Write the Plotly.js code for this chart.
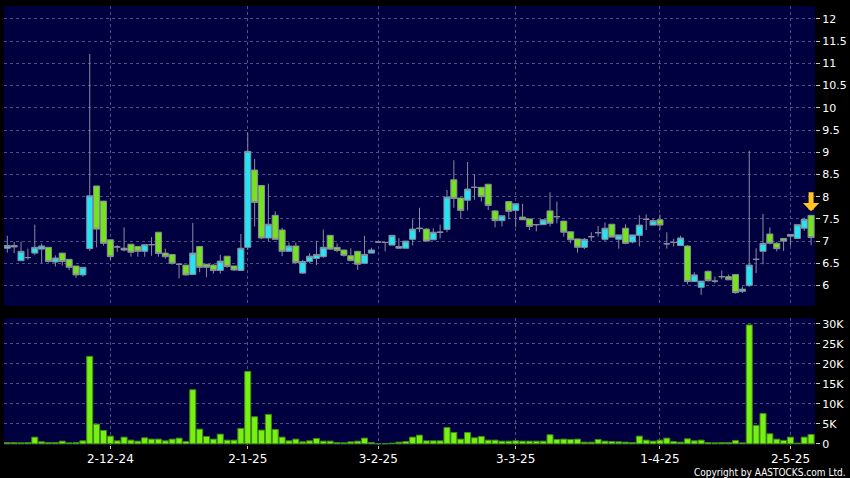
<!DOCTYPE html>
<html>
<head>
<meta charset="utf-8">
<script src="https://cdn.plot.ly/plotly-3.0.1.min.js"></script>
<style>
  html, body { margin: 0; padding: 0; background: #000000; }
  #chart { width: 850px; height: 478px; }
</style>
</head>
<body>
<div id="chart"></div>
<script>
// ---- Data (trading days) ----
var dates = [
  '2024-11-11','2024-11-12','2024-11-13','2024-11-14','2024-11-15','2024-11-18','2024-11-19','2024-11-20','2024-11-21','2024-11-22',
  '2024-11-25','2024-11-26','2024-11-27','2024-11-28','2024-11-29',
  '2024-12-02','2024-12-03','2024-12-04','2024-12-05','2024-12-06','2024-12-09','2024-12-10','2024-12-11','2024-12-12','2024-12-13',
  '2024-12-16','2024-12-17','2024-12-18','2024-12-19','2024-12-20','2024-12-23','2024-12-24','2024-12-27','2024-12-30','2024-12-31',
  '2025-01-02','2025-01-03','2025-01-06','2025-01-07','2025-01-08','2025-01-09','2025-01-10','2025-01-13','2025-01-14','2025-01-15',
  '2025-01-16','2025-01-17','2025-01-20','2025-01-21','2025-01-22','2025-01-23','2025-01-24','2025-01-27','2025-01-28',
  '2025-02-03','2025-02-04','2025-02-05','2025-02-06','2025-02-07','2025-02-10','2025-02-11','2025-02-12','2025-02-13','2025-02-14',
  '2025-02-17','2025-02-18','2025-02-19','2025-02-20','2025-02-21','2025-02-24','2025-02-25','2025-02-26','2025-02-27','2025-02-28',
  '2025-03-03','2025-03-04','2025-03-05','2025-03-06','2025-03-07','2025-03-10','2025-03-11','2025-03-12','2025-03-13','2025-03-14',
  '2025-03-17','2025-03-18','2025-03-19','2025-03-20','2025-03-21','2025-03-24','2025-03-25','2025-03-26','2025-03-27','2025-03-28','2025-03-31',
  '2025-04-01','2025-04-02','2025-04-03','2025-04-07','2025-04-08','2025-04-09','2025-04-10','2025-04-11','2025-04-14','2025-04-15',
  '2025-04-16','2025-04-17','2025-04-22','2025-04-23','2025-04-24','2025-04-25','2025-04-28','2025-04-29','2025-04-30',
  '2025-05-02','2025-05-06','2025-05-07','2025-05-08'
];

var openP = [
  6.84,6.90,6.56,6.63,6.73,6.82,6.86,6.53,6.73,6.59,
  6.44,6.24,6.83,8.24,7.90,7.03,6.87,6.84,6.93,6.88,
  6.77,6.92,7.20,6.73,6.70,6.48,6.46,6.25,6.88,6.48,
  6.46,6.34,6.66,6.44,6.34,6.86,8.60,8.25,7.07,7.58,
  7.25,6.77,6.89,6.28,6.54,6.61,6.65,7.13,6.86,6.80,
  6.67,6.77,6.50,6.73,6.98,6.97,6.91,6.84,6.84,7.04,
  7.28,7.27,7.03,7.20,7.26,8.38,7.97,7.92,8.21,8.21,
  8.28,7.68,7.46,7.89,7.69,7.54,7.50,7.37,7.37,7.68,
  7.55,7.45,7.21,7.05,6.86,7.10,7.19,7.04,7.38,7.04,
  7.29,6.98,7.13,7.49,7.36,7.48,6.94,6.97,6.90,6.89,
  6.09,5.96,6.32,6.10,6.20,6.20,6.25,5.87,6.00,6.59,
  6.77,7.16,6.95,7.06,7.11,7.06,7.29,7.58
];
var highP = [
  7.12,6.98,6.99,6.83,7.37,6.95,6.86,6.68,6.73,6.59,
  6.44,6.41,11.21,8.24,7.90,7.03,6.91,7.31,6.93,6.88,
  6.92,7.09,7.20,6.83,6.70,6.48,6.46,7.41,6.88,6.48,
  6.48,6.69,6.66,6.44,7.16,9.44,8.85,8.25,8.29,7.67,
  7.30,6.97,6.97,6.58,6.73,7.01,7.26,7.13,6.95,6.80,
  6.84,6.77,7.12,6.85,6.98,6.97,7.13,7.07,7.00,7.49,
  7.75,7.29,7.29,7.37,8.15,8.82,7.97,8.78,8.51,8.22,
  8.28,7.70,7.57,7.89,7.84,7.84,7.50,7.37,7.48,8.10,
  7.89,7.45,7.21,7.05,7.07,7.20,7.34,7.42,7.38,7.14,
  7.38,7.14,7.58,7.60,7.50,7.60,7.20,7.05,7.12,6.91,
  6.30,6.10,6.34,6.20,6.34,6.25,6.26,5.98,9.03,6.84,
  7.61,7.31,6.98,7.06,7.15,7.37,7.53,7.58
];
var lowP = [
  6.74,6.73,6.55,6.58,6.69,6.50,6.52,6.43,6.45,6.35,
  6.17,6.20,6.78,6.86,6.90,6.57,6.76,6.77,6.65,6.65,
  6.65,6.67,6.65,6.60,6.47,6.16,6.22,6.24,6.30,6.19,
  6.27,6.27,6.40,6.33,6.34,6.80,7.33,7.05,7.00,7.04,
  6.66,6.77,6.48,6.26,6.50,6.46,6.62,6.80,6.75,6.65,
  6.56,6.35,6.50,6.73,6.98,6.77,6.91,6.84,6.84,6.90,
  7.20,7.00,7.03,7.06,7.20,7.75,7.52,7.69,7.93,7.89,
  7.70,7.31,7.33,7.49,7.31,7.48,7.25,7.22,7.37,7.33,
  7.40,7.10,6.95,6.74,6.82,7.00,7.10,7.00,7.09,6.83,
  6.93,6.95,6.88,7.25,7.36,7.25,6.83,6.88,6.90,6.03,
  6.09,5.79,6.09,6.05,6.14,6.13,5.82,5.83,5.97,6.28,
  6.48,6.93,6.77,6.78,6.90,7.06,7.23,6.91
];
var closeP = [
  6.90,6.87,6.77,6.63,6.86,6.89,6.54,6.62,6.54,6.41,
  6.24,6.41,8.02,7.27,6.95,6.65,6.87,6.80,6.75,6.77,
  6.92,6.92,6.72,6.65,6.50,6.48,6.24,6.73,6.41,6.41,
  6.34,6.55,6.43,6.35,6.84,9.02,7.87,7.07,7.38,7.04,
  6.77,6.89,6.52,6.54,6.66,6.70,6.86,6.82,6.79,6.68,
  6.56,6.48,6.70,6.80,6.98,6.97,7.13,6.88,7.00,7.27,
  7.29,7.00,7.20,7.20,7.99,7.96,7.69,8.17,8.21,8.00,
  7.80,7.46,7.57,7.67,7.84,7.48,7.33,7.37,7.48,7.40,
  7.55,7.20,7.03,6.86,7.04,7.10,7.19,7.29,7.09,7.14,
  6.95,7.14,7.36,7.49,7.46,7.36,6.94,6.97,7.07,6.09,
  6.24,6.10,6.11,6.10,6.20,6.13,5.84,5.92,6.46,6.59,
  6.95,6.95,6.83,7.00,7.15,7.37,7.49,7.08
];
var volume = [
  300,300,250,300,1670,500,330,330,670,250,
  330,750,21900,4930,3340,1920,750,1670,920,670,
  1500,1170,1170,750,1170,1420,590,13540,3680,1840,
  1170,2420,920,920,3850,18140,6770,3430,7360,3600,
  1670,750,1170,500,750,1340,670,670,330,250,
  500,670,1420,330,0,0,170,420,590,1670,
  2170,750,750,750,4100,2840,1170,2840,1500,1840,
  920,920,670,670,750,670,670,670,670,2260,
  1090,1170,1090,1170,420,420,1090,670,590,500,
  420,330,1920,920,670,920,1420,590,420,1250,
  750,920,330,250,330,330,840,250,29760,4600,
  7610,2510,1170,840,1670,170,1670,2340
];

var tickDates  = ['2024-12-02','2025-01-02','2025-02-03','2025-03-03','2025-04-01','2025-05-02'];
var tickLabels = ['2-12-24','2-1-25','3-2-25','3-3-25','1-4-25','2-5-25'];
var priceTicks = [6,6.5,7,7.5,8,8.5,9,9.5,10,10.5,11,11.5,12];
var volTicks   = [0,5000,10000,15000,20000,25000,30000];
var volLabels  = ['0','5K','10K','15K','20K','25K','30K'];

// ---- Styles ----
var FONT = 'DejaVu Sans, Verdana, sans-serif';
var gridCol = '#50507e';
var cyan = '#22e4f2';
var green = '#74e21c';
var edge = '#8a8c9c';

var candles = {
  type: 'candlestick',
  x: dates, open: openP, high: highP, low: lowP, close: closeP,
  xaxis: 'x', yaxis: 'y',
  whiskerwidth: 0,
  increasing: { fillcolor: cyan, line: { color: edge, width: 1 } },
  decreasing: { fillcolor: green, line: { color: edge, width: 1 } },
  hoverinfo: 'skip', showlegend: false
};

var bars = {
  type: 'bar',
  x: dates, y: volume,
  xaxis: 'x2', yaxis: 'y2',
  marker: { color: '#78f014', line: { color: '#3f8a12', width: 1 } },
  hoverinfo: 'skip', showlegend: false
};

var n = dates.length;
var xRange = [-0.48, n - 1 + 0.57];

var layout = {
  width: 850, height: 478,
  paper_bgcolor: '#000000',
  plot_bgcolor: '#000040',
  margin: { l: 4, r: 35, t: 6, b: 33, pad: 0 },
  showlegend: false,
  boxgap: 0.12,
  boxgroupgap: 0,
  bargap: 0.12,
  font: { family: FONT, color: '#ffffff', size: 11 },
  xaxis: {
    type: 'category', anchor: 'y', range: xRange,
    rangeslider: { visible: false },
    tickvals: tickDates, ticktext: tickLabels,
    showticklabels: false, ticks: '',
    showgrid: true, gridcolor: gridCol, griddash: '3px,3px', gridwidth: 1,
    zeroline: false, showline: false, fixedrange: true
  },
  xaxis2: {
    type: 'category', anchor: 'y2', matches: 'x', range: xRange,
    tickvals: tickDates, ticktext: tickLabels,
    ticks: 'outside', ticklen: 3, tickcolor: '#c8c8c8', tickwidth: 1,
    tickfont: { family: FONT, size: 12, color: '#ffffff' },
    showgrid: true, gridcolor: gridCol, griddash: '3px,3px', gridwidth: 1,
    zeroline: false, showline: false, fixedrange: true
  },
  yaxis: {
    domain: [0.3166, 1], anchor: 'x', side: 'right',
    range: [5.54, 12.29],
    tickvals: priceTicks,
    ticks: 'outside', ticklen: 4, tickcolor: '#c8c8c8',
    tickfont: { family: FONT, size: 11, color: '#ffffff' },
    showgrid: true, gridcolor: gridCol, griddash: '3px,3px',
    zeroline: false, showline: false, fixedrange: true
  },
  yaxis2: {
    domain: [0, 0.2893], anchor: 'x2', side: 'right',
    range: [-300, 31500],
    tickvals: volTicks, ticktext: volLabels,
    ticks: 'outside', ticklen: 4, tickcolor: '#c8c8c8',
    tickfont: { family: FONT, size: 11, color: '#ffffff' },
    showgrid: true, gridcolor: gridCol, griddash: '3px,3px',
    zeroline: false, showline: false, fixedrange: true
  },
  annotations: [
    {
      x: dates[n - 1], y: highP[n - 1], xref: 'x', yref: 'y',
      text: ' ', showarrow: true,
      ax: 0, ay: -31, standoff: 4,
      arrowhead: 1, arrowsize: 0.55, arrowwidth: 5, arrowcolor: '#ffc61e'
    },
    {
      xref: 'paper', yref: 'paper', x: 1.0407, y: -0.0797,
      xanchor: 'right', yanchor: 'bottom', showarrow: false,
      text: 'Copyright by AASTOCKS.com Ltd.',
      font: { family: 'DejaVu Sans Condensed, Liberation Sans Narrow, DejaVu Sans, sans-serif', size: 10, color: '#ffffff' }
    }
  ]
};

Plotly.newPlot('chart', [candles, bars], layout, { staticPlot: true, displayModeBar: false });
</script>
</body>
</html>
